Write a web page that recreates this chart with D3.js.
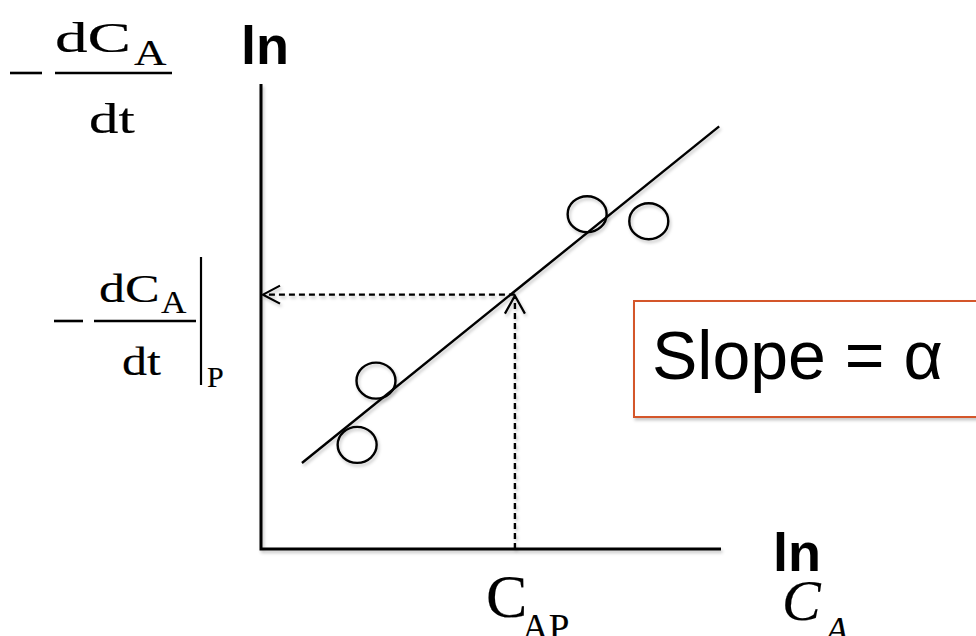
<!DOCTYPE html>
<html>
<head>
<meta charset="utf-8">
<script src="https://cdn.jsdelivr.net/npm/d3@7"></script>
<style>
  html, body { margin: 0; padding: 0; background: #fff; }
  svg { display: block; }
</style>
</head>
<body>
<svg id="chart" width="976" height="636"></svg>
<script>
// Measured points: ln(C_A) vs ln(-dC_A/dt), arbitrary units
const lnCA = [2.09, 2.50, 7.09, 8.43];
const lnRate = [2.24, 3.62, 7.20, 7.05];

// Ends of the fitted straight line
const fitX = [0.89, 9.96];
const fitY = [1.85, 9.09];

// Reading point P on the fitted line
const pointP = [5.52, 5.47];

// Axis extents
const xDomain = [0, 10];
const yDomain = [0, 10];

const svg = d3.select("#chart");

const x = d3.scaleLinear().domain(xDomain).range([261, 721]);
const y = d3.scaleLinear().domain(yDomain).range([549, 84]);

// soft shadow under strokes
const defs = svg.append("defs");
const f = defs.append("filter").attr("id", "shade")
  .attr("x", "-20%").attr("y", "-20%").attr("width", "140%").attr("height", "140%");
f.append("feDropShadow").attr("dx", 1.5).attr("dy", 2.5).attr("stdDeviation", 1.6)
  .attr("flood-color", "#000").attr("flood-opacity", 0.22);

const g = svg.append("g");

// axes
g.append("path")
  .attr("filter", "url(#shade)")
  .attr("d", d3.line()([[x(0), y(10)], [x(0), y(0)], [x(10), y(0)]]))
  .attr("fill", "none").attr("stroke", "#000").attr("stroke-width", 3);

// dashed guide lines from P
const guide = g.append("g").attr("filter", "url(#shade)")
  .attr("fill", "none").attr("stroke", "#000").attr("stroke-width", 2.4);
guide.append("line")
  .attr("x1", x(pointP[0])).attr("y1", y(pointP[1]))
  .attr("x2", x(0) + 3).attr("y2", y(pointP[1]))
  .attr("stroke-dasharray", "6,4");
guide.append("line")
  .attr("x1", x(pointP[0])).attr("y1", y(0))
  .attr("x2", x(pointP[0])).attr("y2", y(pointP[1]) + 2)
  .attr("stroke-dasharray", "6,4");
// open arrowheads
const ax = x(0) + 2, ay = y(pointP[1]);
guide.append("path")
  .attr("d", `M${ax + 17},${ay - 9}L${ax},${ay}L${ax + 17},${ay + 9}`)
  .attr("stroke-width", 2.2);
const bx = x(pointP[0]), by = y(pointP[1]) + 1;
guide.append("path")
  .attr("d", `M${bx - 10},${by + 18}L${bx},${by}L${bx + 10},${by + 18}`)
  .attr("stroke-width", 2.2);

// fitted line
g.append("path")
  .attr("filter", "url(#shade)")
  .attr("d", d3.line()(fitX.map((v, i) => [x(v), y(fitY[i])])))
  .attr("fill", "none").attr("stroke", "#000").attr("stroke-width", 2.4);

// data markers
g.append("g").attr("filter", "url(#shade)")
  .selectAll("ellipse")
  .data(lnCA.map((v, i) => [v, lnRate[i]]))
  .join("ellipse")
  .attr("cx", d => x(d[0])).attr("cy", d => y(d[1]))
  .attr("rx", 19.5).attr("ry", 18)
  .attr("fill", "none").attr("stroke", "#000").attr("stroke-width", 2.4);

// slope annotation box
g.append("rect")
  .attr("filter", "url(#shade)")
  .attr("x", 634).attr("y", 301).attr("width", 380).attr("height", 116)
  .attr("fill", "#fff").attr("stroke", "#d4562b").attr("stroke-width", 2);
g.append("text")
  .attr("x", 652).attr("y", 379)
  .attr("font-family", "'Liberation Sans', Arial, sans-serif")
  .attr("font-size", 68)
  .attr("fill", "#000")
  .text("Slope = α");

// "ln" axis labels
const lnStyle = sel => sel
  .attr("font-family", "'Liberation Sans', Arial, sans-serif")
  .attr("font-weight", "bold").attr("font-size", 54).attr("fill", "#000");
g.append("text").attr("x", 241).attr("y", 64).text("ln").call(lnStyle);
g.append("text").attr("x", 773).attr("y", 571).text("ln").call(lnStyle);

// Times-style equation text, optionally stretched horizontally
function tx(px, py, str, size, sx, italic) {
  return g.append("text")
    .attr("transform", `translate(${px},${py}) scale(${sx},1)`)
    .attr("font-family", "'Liberation Serif', 'Times New Roman', serif")
    .attr("font-size", size)
    .attr("font-style", italic ? "italic" : "normal")
    .attr("fill", "#000")
    .attr("stroke", "#000").attr("stroke-width", 0.15)
    .text(str);
}
function bar(x1, x2, yy) {
  g.append("line").attr("x1", x1).attr("x2", x2).attr("y1", yy).attr("y2", yy)
    .attr("stroke", "#000").attr("stroke-width", 2.6);
}

// top-left y label: -dC_A/dt
bar(10, 42, 73);
bar(55, 172, 73);
tx(55, 52, "dC", 42, 1.55);
tx(134, 65, "A", 36, 1.25);
tx(89, 133, "dt", 42, 1.4);

// value at P: -dC_A/dt |_P
bar(54, 83, 321);
bar(94, 196, 321);
tx(99, 302, "dC", 40, 1.3);
tx(161, 313, "A", 32, 1.1);
tx(122, 375, "dt", 40, 1.25);
g.append("line").attr("x1", 201).attr("x2", 201).attr("y1", 257).attr("y2", 385)
  .attr("stroke", "#000").attr("stroke-width", 2.2);
tx(207, 387, "P", 30, 1.0);

// x value at P and x axis symbol
tx(486, 617, "C", 62, 1.0);
tx(522, 640, "AP", 37, 1.0);
tx(782, 620, "C", 58, 1.0, true);
tx(826, 642, "A", 36, 1.0, true);
</script>
</body>
</html>
